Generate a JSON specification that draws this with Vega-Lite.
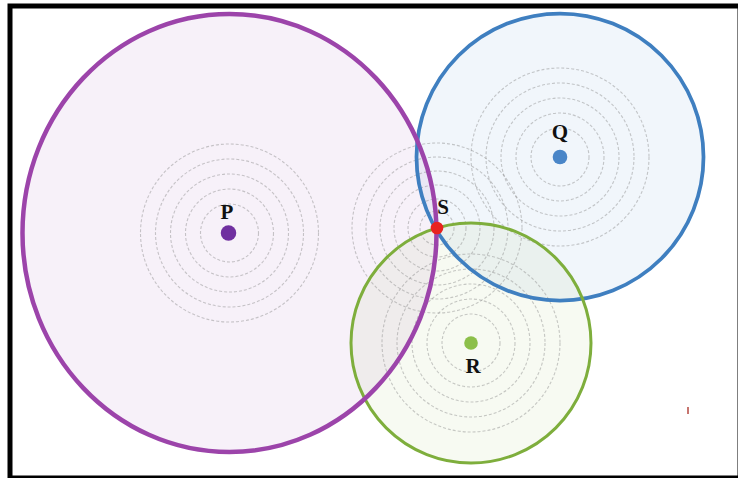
{
  "$schema": "https://vega.github.io/schema/vega-lite/v6.json",
  "width": 730,
  "height": 472,
  "autosize": "none",
  "padding": {"left": 10, "top": 6, "right": 0, "bottom": 0},
  "background": "white",
  "config": {"view": {"stroke": "black", "strokeWidth": 5}},
  "resolve": {"scale": {"color": "independent", "size": "independent", "shape": "independent", "strokeWidth": "independent"}},
  "datasets": {
    "zones": [
      {"name": "Q", "x": 55.0, "y": 32.1, "d": 28.7},
      {"name": "R", "x": 46.1, "y": 13.5, "d": 24.0},
      {"name": "P", "x": 21.95, "y": 24.5, "d": 41.4}
    ],
    "rings": [
      {"c": "P", "x": 21.95, "y": 24.5, "d": 5.8},
      {"c": "P", "x": 21.95, "y": 24.5, "d": 8.8},
      {"c": "P", "x": 21.95, "y": 24.5, "d": 11.8},
      {"c": "P", "x": 21.95, "y": 24.5, "d": 14.8},
      {"c": "P", "x": 21.95, "y": 24.5, "d": 17.8},
      {"c": "Q", "x": 55.0, "y": 32.1, "d": 5.8},
      {"c": "Q", "x": 55.0, "y": 32.1, "d": 8.8},
      {"c": "Q", "x": 55.0, "y": 32.1, "d": 11.8},
      {"c": "Q", "x": 55.0, "y": 32.1, "d": 14.8},
      {"c": "Q", "x": 55.0, "y": 32.1, "d": 17.8},
      {"c": "R", "x": 46.1, "y": 13.5, "d": 5.8},
      {"c": "R", "x": 46.1, "y": 13.5, "d": 8.8},
      {"c": "R", "x": 46.1, "y": 13.5, "d": 11.8},
      {"c": "R", "x": 46.1, "y": 13.5, "d": 14.8},
      {"c": "R", "x": 46.1, "y": 13.5, "d": 17.8},
      {"c": "S", "x": 42.7, "y": 25.0, "d": 3.4},
      {"c": "S", "x": 42.7, "y": 25.0, "d": 5.8},
      {"c": "S", "x": 42.7, "y": 25.0, "d": 8.6},
      {"c": "S", "x": 42.7, "y": 25.0, "d": 11.4},
      {"c": "S", "x": 42.7, "y": 25.0, "d": 14.2},
      {"c": "S", "x": 42.7, "y": 25.0, "d": 17.0}
    ],
    "points": [
      {"name": "P", "x": 21.85, "y": 24.5},
      {"name": "Q", "x": 55.0, "y": 32.1},
      {"name": "R", "x": 46.1, "y": 13.5},
      {"name": "S", "x": 42.7, "y": 25.0}
    ],
    "labels": [
      {"name": "P", "x": 21.7, "y": 26.5},
      {"name": "Q", "x": 55.0, "y": 34.5},
      {"name": "S", "x": 43.3, "y": 27.0},
      {"name": "R", "x": 46.3, "y": 11.1}
    ],
    "marks": [
      {"x": 67.8, "y": 7.1, "y2": 6.4}
    ]
  },
  "layer": [
    {
      "data": {"name": "zones"},
      "mark": {"type": "point", "filled": true, "fillOpacity": 0.07, "strokeWidth": 0},
      "encoding": {
        "x": {"field": "x", "type": "quantitative", "scale": {"domain": [0, 73]}, "axis": null},
        "y": {"field": "y", "type": "quantitative", "scale": {"domain": [0, 47.2]}, "axis": null},
        "size": {"field": "d", "type": "quantitative", "scale": {"type": "pow", "exponent": 2, "domain": [0, 73], "range": [0, 532900]}, "legend": null},
        "shape": {"field": "name", "type": "nominal", "scale": {"domain": ["P", "Q", "R"], "range": ["M1,0C1,0.5843,0.5523,1.058,0,1.058C-0.5523,1.058,-1,0.5843,-1,0C-1,-0.5843,-0.5523,-1.058,0,-1.058C0.5523,-1.058,1,-0.5843,1,0Z", "circle", "circle"]}, "legend": null},
        "color": {"field": "name", "type": "nominal", "scale": {"domain": ["P", "Q", "R"], "range": ["#8e3fb0", "#3f86cc", "#8ab84a"]}, "legend": null}
      }
    },
    {
      "data": {"name": "rings"},
      "mark": {"type": "point", "filled": false, "stroke": "#8a8a8a", "strokeWidth": 1.1, "strokeDash": [3, 2], "opacity": 0.45},
      "encoding": {
        "x": {"field": "x", "type": "quantitative", "scale": {"domain": [0, 73]}, "axis": null},
        "y": {"field": "y", "type": "quantitative", "scale": {"domain": [0, 47.2]}, "axis": null},
        "size": {"field": "d", "type": "quantitative", "scale": {"type": "pow", "exponent": 2, "domain": [0, 73], "range": [0, 532900]}, "legend": null}
      }
    },
    {
      "data": {"name": "zones"},
      "mark": {"type": "point", "filled": false, "opacity": 1},
      "encoding": {
        "x": {"field": "x", "type": "quantitative", "scale": {"domain": [0, 73]}, "axis": null},
        "y": {"field": "y", "type": "quantitative", "scale": {"domain": [0, 47.2]}, "axis": null},
        "size": {"field": "d", "type": "quantitative", "scale": {"type": "pow", "exponent": 2, "domain": [0, 73], "range": [0, 532900]}, "legend": null},
        "shape": {"field": "name", "type": "nominal", "scale": {"domain": ["P", "Q", "R"], "range": ["M1,0C1,0.5843,0.5523,1.058,0,1.058C-0.5523,1.058,-1,0.5843,-1,0C-1,-0.5843,-0.5523,-1.058,0,-1.058C0.5523,-1.058,1,-0.5843,1,0Z", "circle", "circle"]}, "legend": null},
        "color": {"field": "name", "type": "nominal", "scale": {"domain": ["P", "Q", "R"], "range": ["#9c44aa", "#3f7fc0", "#7eae3c"]}, "legend": null},
        "strokeWidth": {"field": "name", "type": "nominal", "scale": {"domain": ["P", "Q", "R"], "range": [4.5, 3, 3]}, "legend": null}
      }
    },
    {
      "data": {"name": "points"},
      "mark": {"type": "point", "filled": true, "opacity": 1},
      "encoding": {
        "x": {"field": "x", "type": "quantitative", "scale": {"domain": [0, 73]}, "axis": null},
        "y": {"field": "y", "type": "quantitative", "scale": {"domain": [0, 47.2]}, "axis": null},
        "color": {"field": "name", "type": "nominal", "scale": {"domain": ["P", "Q", "R", "S"], "range": ["#7030a0", "#4a86c8", "#8cbf4a", "#e8231f"]}, "legend": null},
        "size": {"field": "name", "type": "nominal", "scale": {"domain": ["P", "Q", "R", "S"], "range": [240, 160, 190, 300]}, "legend": null}
      }
    },
    {
      "data": {"name": "marks"},
      "mark": {"type": "rule", "color": "#b5473f", "strokeWidth": 1.5},
      "encoding": {
        "x": {"field": "x", "type": "quantitative", "scale": {"domain": [0, 73]}, "axis": null},
        "y": {"field": "y", "type": "quantitative", "scale": {"domain": [0, 47.2]}, "axis": null},
        "y2": {"field": "y2"}
      }
    },
    {
      "data": {"name": "labels"},
      "mark": {"type": "text", "font": "Liberation Serif", "fontWeight": "bold", "fontSize": 21, "color": "#111111", "baseline": "middle", "align": "center"},
      "encoding": {
        "x": {"field": "x", "type": "quantitative", "scale": {"domain": [0, 73]}, "axis": null},
        "y": {"field": "y", "type": "quantitative", "scale": {"domain": [0, 47.2]}, "axis": null},
        "text": {"field": "name"}
      }
    }
  ]
}
